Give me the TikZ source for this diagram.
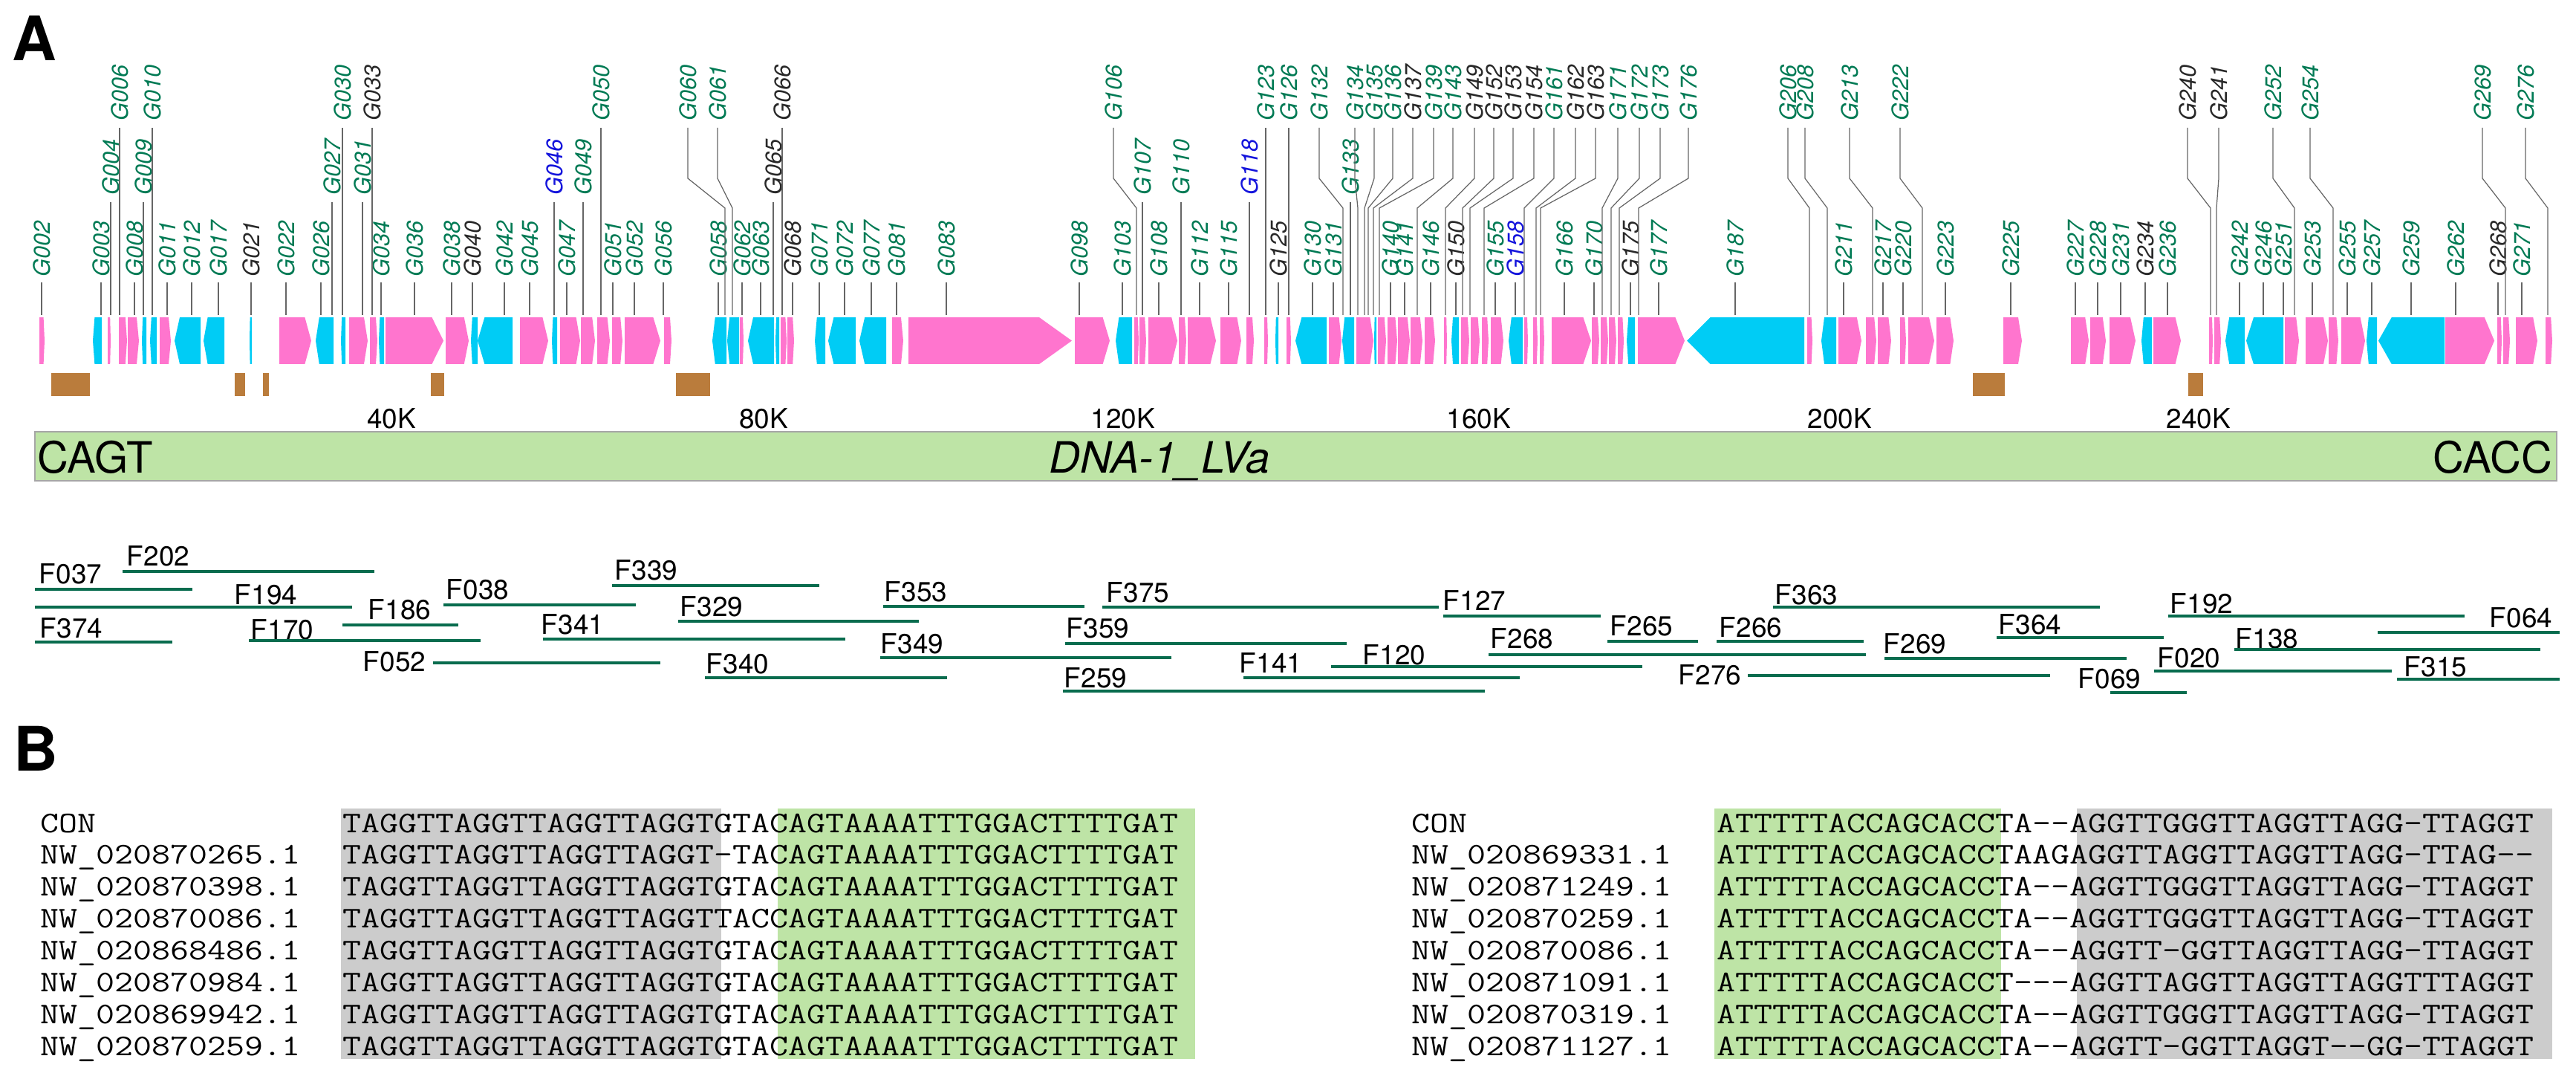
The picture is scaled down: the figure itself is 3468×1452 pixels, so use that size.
\documentclass[tikz,border=0pt]{standalone}
\usepackage{graphicx}
\usepackage{fontspec}
\setmainfont{TeX Gyre Heros}
\usetikzlibrary{positioning}
\usetikzlibrary{calc}

\definecolor{fwdpink}{RGB}{255,117,206}
\definecolor{revcyan}{RGB}{0,204,245}
\definecolor{repbrown}{RGB}{186,124,60}
\definecolor{contig}{RGB}{190,228,166}
\definecolor{lgreen}{RGB}{0,122,84}
\definecolor{lblack}{RGB}{40,40,40}
\definecolor{lblue}{RGB}{20,20,220}
\definecolor{fline}{RGB}{8,108,78}
\definecolor{hlgray}{RGB}{204,204,204}

% courier-like alignment text
\newcommand{\alnfont}[1]{\scalebox{1.2}[1]{#1}}

\begin{document}
\begin{tikzpicture}[x=0.01cm, y=-0.01cm,
  glab/.style={rotate=90, anchor=west, inner sep=0pt, font=\fontsize{8.7}{9}\selectfont\itshape},
  leader/.style={draw=gray!80!black, line width=0.35pt},
  flab/.style={inner sep=0pt, font=\fontsize{10.5}{11}\selectfont},
  frag/.style={draw=fline, line width=1.4pt},
  tick/.style={anchor=base, inner sep=0pt, font=\fontsize{10.5}{11}\selectfont},
  endlab/.style={anchor=base, inner sep=0pt, font=\fontsize{16.5}{18}\selectfont},
  panel/.style={anchor=base west, inner sep=0pt, font=\fontsize{23.5}{26}\selectfont\bfseries},
  seqtxt/.style={anchor=base west, inner sep=0pt, font=\ttfamily\fontsize{11.5}{13}\selectfont}]
  \useasboundingbox (0,0) rectangle (3468,1452);

  % panel letters
  \node[panel] (pA) at (16,82) {A};
  \node[panel] (pB) at (18,1037) {B};

  % forward genes
  \foreach \a/\b in {53/60, 145/149, 160/171, 172/187, 215/230, 376/419, 470/495, 498/508,
    519/597, 600/631, 700/738, 754/781, 782/801, 804/821, 824/838, 841/889, 894/904,
    996/1001, 1051/1059, 1060/1069, 1201/1216, 1223/1443, 1447/1494, 1527/1533, 1534/1543,
    1546/1585, 1587/1597, 1599/1637, 1643/1671, 1678/1688, 1702/1707, 1732/1738, 1789/1806,
    1826/1849, 1855/1866, 1868/1881, 1882/1898, 1899/1915, 1918/1932, 1944/1948, 1967/1978,
    1980/1992, 1995/2004, 2007/2024, 2052/2057, 2064/2070, 2073/2079, 2089/2142, 2143/2153,
    2155/2165, 2166/2176, 2178/2186, 2205/2268, 2433/2440, 2475/2506, 2512/2526, 2528/2546,
    2558/2566, 2569/2604, 2607/2630, 2697/2722, 2788/2812, 2814/2835, 2840/2875, 2899/2936,
    2974/2979, 2981/2990, 3076/3095, 3104/3134, 3135/3148, 3152/3184, 3292/3358, 3362/3368,
    3370/3379, 3387/3416, 3427/3436}
  {
    \pgfmathsetmacro\h{0.2*(\b-\a)}
    \fill[fwdpink] (\a,427) -- ({\b-\h},427) -- (\b,458.5) -- ({\b-\h},490) -- (\a,490) -- cycle;
  }

  % reverse genes
  \foreach \a/\b in {125/137, 191/197, 202/211, 235/270, 274/302, 336/339, 425/449, 459/465,
    510/517, 634/643, 643/690, 743/750, 959/978, 979/995, 1007/1042, 1044/1049, 1097/1111,
    1115/1152, 1157/1193, 1502/1524, 1717/1721, 1744/1786, 1807/1823, 1850/1853, 1954/1964,
    2031/2050, 2190/2201, 2271/2429, 2452/2472, 2883/2897, 2996/3022, 3024/3074, 3186/3200,
    3202/3291}
  {
    \pgfmathsetmacro\h{0.2*(\b-\a)}
    \fill[revcyan] (\a,458.5) -- ({\a+\h},427) -- (\b,427) -- (\b,490) -- ({\a+\h},490) -- cycle;
  }

  % repeats
  \foreach \a/\b in {69/121, 316/330, 354/362, 580/598, 910/956, 2656/2699, 2946/2966}
    \fill[repbrown] (\a,502) rectangle (\b,533);

  % gene labels, lower row
  \foreach \x/\nm/\col in {56/G002/lgreen, 136/G003/lgreen, 181/G008/lgreen, 225/G011/lgreen,
    258/G012/lgreen, 294/G017/lgreen, 338/G021/lblack, 385/G022/lgreen, 432/G026/lgreen,
    513/G034/lgreen, 558/G036/lgreen, 608/G038/lgreen, 636/G040/lblack, 679/G042/lgreen,
    713/G045/lgreen, 763/G047/lgreen, 825/G051/lgreen, 854/G052/lgreen, 893/G056/lgreen,
    967/G058/lgreen, 999/G062/lgreen, 1024/G063/lgreen, 1067/G068/lblack, 1103/G071/lgreen,
    1137/G072/lgreen, 1173/G077/lgreen, 1207/G081/lgreen, 1274/G083/lgreen, 1453/G098/lgreen,
    1511/G103/lgreen, 1560/G108/lgreen, 1615/G112/lgreen, 1654/G115/lgreen, 1721/G125/lblack,
    1767/G130/lgreen, 1795/G131/lgreen, 1872/G140/lgreen, 1891/G141/lgreen, 1926/G146/lgreen,
    1960/G150/lblack, 2013/G155/lgreen, 2040/G158/lblue, 2106/G166/lgreen, 2146/G170/lgreen,
    2195/G175/lblack, 2233/G177/lgreen, 2336/G187/lgreen, 2482/G211/lgreen, 2535/G217/lgreen,
    2562/G220/lgreen, 2619/G223/lgreen, 2707/G225/lgreen, 2794/G227/lgreen, 2824/G228/lgreen,
    2855/G231/lgreen, 2888/G234/lblack, 2918/G236/lgreen, 3015/G242/lgreen, 3047/G246/lgreen,
    3074/G251/lgreen, 3113/G253/lgreen, 3160/G255/lgreen, 3193/G257/lgreen, 3246/G259/lgreen,
    3306/G262/lgreen, 3363/G268/lblack, 3395/G271/lgreen}
  {
    \node[glab, text=\col] (\nm) at (\x,373) {\nm};
    \draw[leader] ([yshift=-0.07cm]\nm.west) -- (\x,424);
  }

  % gene labels, middle row
  \foreach \x/\nm/\col in {149/G004/lgreen, 193/G009/lgreen, 447/G027/lgreen, 488/G031/lgreen,
    746/G046/lblue, 785/G049/lgreen, 1041/G065/lblack, 1538/G107/lgreen, 1590/G110/lgreen,
    1682/G118/lblue, 1818/G133/lgreen}
  {
    \node[glab, text=\col] (\nm) at (\x,263) {\nm};
    \draw[leader] ([yshift=-0.09cm]\nm.west) -- (\x,424);
  }

  % gene labels, top row (bent leaders)
  \foreach \t/\b/\nm/\col in {161/161/G006/lgreen, 205/205/G010/lgreen, 461/461/G030/lgreen,
    501/501/G033/lblack, 809/809/G050/lgreen, 926/976/G060/lgreen, 966/986/G061/lgreen,
    1053/1053/G066/lblack, 1499/1530/G106/lgreen, 1704/1704/G123/lgreen, 1735/1735/G126/lgreen,
    1776/1808/G132/lgreen, 1824/1828/G134/lgreen, 1850/1837/G135/lgreen, 1875/1842/G136/lgreen,
    1902/1849/G137/lblack, 1930/1857/G139/lgreen, 1956/1908/G143/lgreen, 1985/1946/G149/lblack,
    2011/1969/G152/lblack, 2037/1979/G153/lblack, 2065/1998/G154/lblack, 2092/2052/G161/lgreen,
    2121/2068/G162/lblack, 2148/2074/G163/lblack, 2178/2157/G171/lgreen, 2207/2169/G172/lgreen,
    2235/2180/G173/lgreen, 2273/2206/G176/lgreen, 2407/2436/G206/lgreen, 2430/2460/G208/lgreen,
    2490/2521/G213/lgreen, 2558/2588/G222/lgreen, 2945/2976/G240/lblack, 2987/2984/G241/lblack,
    3060/3089/G252/lgreen, 3110/3141/G254/lgreen, 3342/3373/G269/lgreen, 3400/3430/G276/lgreen}
  {
    \node[glab, text=\col] (\nm) at (\t,163) {\nm};
    \draw[leader] ([yshift=-0.09cm]\nm.west) -- (\t,240) -- (\b,280) -- (\b,424);
  }

  % scale
  \foreach \x/\lab in {527/40K, 1028/80K, 1512/120K, 1991/160K, 2477/200K, 2960/240K}
    \node[tick] (k\lab) at (\x,577) {\lab};

  % contig bar
  \filldraw[fill=contig, draw=gray!70, line width=0.6pt] (47,581) rectangle (3442,647);
  \node[endlab, anchor=base west] (left) at (50,637) {CAGT};
  \node[endlab, anchor=base east] (right) at (3437,637) {CACC};
  \node[endlab] (name) at (1561,637) {\itshape DNA-1\_LVa};

  % fragments
  \foreach \a/\b/\y/\nm/\lx/\ly in {47/259/793/F037/95/772, 165/504/769/F202/213/748,
    47/474/817/F194/358/800, 47/232/864/F374/96/845, 335/647/862/F170/380/847,
    461/617/841/F186/538/820, 583/889/892/F052/531/890, 597/856/814/F038/643/793,
    824/1103/788/F339/870/767, 731/1138/860/F341/771/840, 913/1237/836/F329/958/816,
    949/1275/912/F340/993/893, 1189/1460/816/F353/1233/796, 1185/1577/885/F349/1228/866,
    1484/1937/817/F375/1532/797, 1434/1813/866/F359/1478/845, 1431/1999/930/F259/1475/912,
    1674/2046/912/F141/1711/892, 1943/2155/829/F127/1985/808, 1792/2211/897/F120/1877/881,
    2004/2512/881/F268/2049/859, 2164/2286/863/F265/2210/842, 2311/2509/863/F266/2357/844,
    2353/2760/909/F276/2302/908, 2387/2827/817/F363/2432/800, 2537/2863/886/F269/2578/866,
    2688/2913/858/F364/2733/840, 2841/2944/932/F069/2840/913, 2900/3220/903/F020/2947/885,
    2919/3318/829/F192/2964/812, 3008/3420/874/F138/3052/859, 3201/3446/851/F064/3394/831,
    3227/3446/914/F315/3279/897}
  {
    \node[flab] (\nm) at (\lx,\ly) {\nm};
    \draw[frag] (\a,\y) -- (\b,\y);
  }

  % alignment, left
  \fill[hlgray] (459,1088) rectangle (971,1425);
  \fill[contig] (1047,1088) rectangle (1609,1425);
  \foreach \nm/\sq [count=\i from 0] in {CON/TAGGTTAGGTTAGGTTAGGTGTACAGTAAAATTTGGACTTTTGAT,
    NW\_020870265.1/TAGGTTAGGTTAGGTTAGGT-TACAGTAAAATTTGGACTTTTGAT,
    NW\_020870398.1/TAGGTTAGGTTAGGTTAGGTGTACAGTAAAATTTGGACTTTTGAT,
    NW\_020870086.1/TAGGTTAGGTTAGGTTAGGTTACCAGTAAAATTTGGACTTTTGAT,
    NW\_020868486.1/TAGGTTAGGTTAGGTTAGGTGTACAGTAAAATTTGGACTTTTGAT,
    NW\_020870984.1/TAGGTTAGGTTAGGTTAGGTGTACAGTAAAATTTGGACTTTTGAT,
    NW\_020869942.1/TAGGTTAGGTTAGGTTAGGTGTACAGTAAAATTTGGACTTTTGAT,
    NW\_020870259.1/TAGGTTAGGTTAGGTTAGGTGTACAGTAAAATTTGGACTTTTGAT}
  {
    \pgfmathsetmacro\yy{1120+42.86*\i}
    \node[seqtxt] (idL\i) at (54,\yy) {\alnfont{\nm}};
    \node[seqtxt] (seqL\i) at (461,\yy) {\alnfont{\sq}};
  }

  % alignment, right
  \fill[contig] (2308,1088) rectangle (2694,1425);
  \fill[hlgray] (2796,1088) rectangle (3436,1425);
  \foreach \nm/\sq [count=\i from 0] in {CON/ATTTTTACCAGCACCTA--AGGTTGGGTTAGGTTAGG-TTAGGT,
    NW\_020869331.1/ATTTTTACCAGCACCTAAGAGGTTAGGTTAGGTTAGG-TTAG--,
    NW\_020871249.1/ATTTTTACCAGCACCTA--AGGTTGGGTTAGGTTAGG-TTAGGT,
    NW\_020870259.1/ATTTTTACCAGCACCTA--AGGTTGGGTTAGGTTAGG-TTAGGT,
    NW\_020870086.1/ATTTTTACCAGCACCTA--AGGTT-GGTTAGGTTAGG-TTAGGT,
    NW\_020871091.1/ATTTTTACCAGCACCT---AGGTTAGGTTAGGTTAGGTTTAGGT,
    NW\_020870319.1/ATTTTTACCAGCACCTA--AGGTTGGGTTAGGTTAGG-TTAGGT,
    NW\_020871127.1/ATTTTTACCAGCACCTA--AGGTT-GGTTAGGT--GG-TTAGGT}
  {
    \pgfmathsetmacro\yy{1120+42.86*\i}
    \node[seqtxt] (idR\i) at (1900,\yy) {\alnfont{\nm}};
    \node[seqtxt] (seqR\i) at (2311,\yy) {\alnfont{\sq}};
  }
\end{tikzpicture}
\end{document}
